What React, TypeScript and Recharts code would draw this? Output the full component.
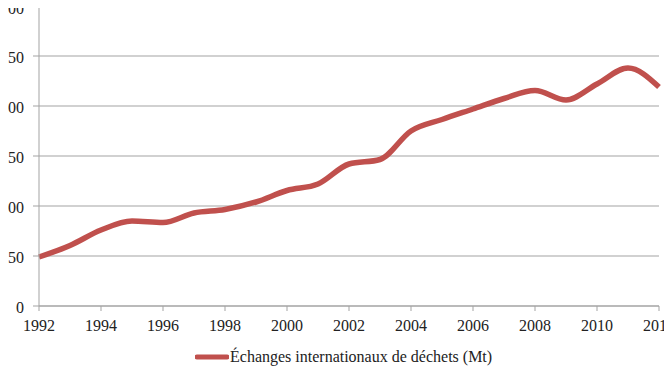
import React from "react";
import { LineChart, Line, XAxis, YAxis, CartesianGrid, Legend } from "recharts";

const years = [
  1992, 1993, 1994, 1995, 1996, 1997, 1998, 1999, 2000, 2001, 2002,
  2003, 2004, 2005, 2006, 2007, 2008, 2009, 2010, 2011, 2012,
];
const tradeMt = [
  49, 60.5, 76, 85, 83.5, 93, 96.5, 104, 115.5, 122, 142,
  146.5, 175, 186.5, 197, 207.5, 215.5, 206, 222, 238, 219,
];
const xTicks = [1992, 1994, 1996, 1998, 2000, 2002, 2004, 2006, 2008, 2010, 2012];
const yTicks = [0, 50, 100, 150, 200, 250, 300];
const seriesName = "Échanges internationaux de déchets (Mt)";

const data = years.map((y, i) => ({ year: y, value: tradeMt[i] }));

const FONT = "'Liberation Serif', 'Times New Roman', serif";
const RED = "#c0504d";
const GRID = "#a3a3a3";
const TEXT = "#222";

// Value labels on the left axis; the topmost one is nudged down so it stays inside the frame.
function YTick(props: any) {
  const { x, y, payload } = props;
  const shift = payload.value === yTicks[yTicks.length - 1] ? 2.5 : 1;
  return (
    <text
      x={x}
      y={y + shift}
      dy="0.355em"
      textAnchor="end"
      fill={TEXT}
      fontSize={16}
      fontFamily={FONT}
    >
      {payload.value}
    </text>
  );
}

function LegendContent() {
  return (
    <div
      style={{
        display: "flex",
        alignItems: "center",
        paddingLeft: 195,
        paddingTop: 12,
        fontFamily: FONT,
        fontSize: 16,
        color: TEXT,
        lineHeight: "18px",
      }}
    >
      <svg width={34} height={8} style={{ display: "block" }}>
        <line x1={2} y1={4} x2={32} y2={4} stroke={RED} strokeWidth={5} strokeLinecap="round" />
      </svg>
      <span style={{ marginLeft: 1 }}>{seriesName}</span>
    </div>
  );
}

export default function App() {
  return (
    <div style={{ margin: -8, width: 672, height: 385, background: "#fff" }}>
      <LineChart
        width={672}
        height={385}
        data={data}
        margin={{ top: 6, right: 13, bottom: 0, left: 0 }}
      >
        <CartesianGrid vertical={false} stroke={GRID} strokeWidth={1} />
        <XAxis
          dataKey="year"
          type="number"
          domain={[1992, 2012]}
          ticks={xTicks}
          interval={0}
          height={30}
          stroke={GRID}
          tickSize={5}
          tickMargin={9}
          tick={{ fill: TEXT, fontSize: 16, fontFamily: FONT }}
        />
        <YAxis
          domain={[0, 300]}
          ticks={yTicks}
          interval={0}
          width={39}
          stroke={GRID}
          tickSize={6}
          tickMargin={9}
          tick={<YTick />}
        />
        <Legend
          verticalAlign="bottom"
          content={<LegendContent />}
          wrapperStyle={{ height: 49, left: 0, width: 672 }}
        />
        <Line
          type="monotone"
          dataKey="value"
          name={seriesName}
          stroke={RED}
          strokeWidth={5.5}
          dot={false}
          activeDot={false}
          isAnimationActive={false}
        />
      </LineChart>
    </div>
  );
}
